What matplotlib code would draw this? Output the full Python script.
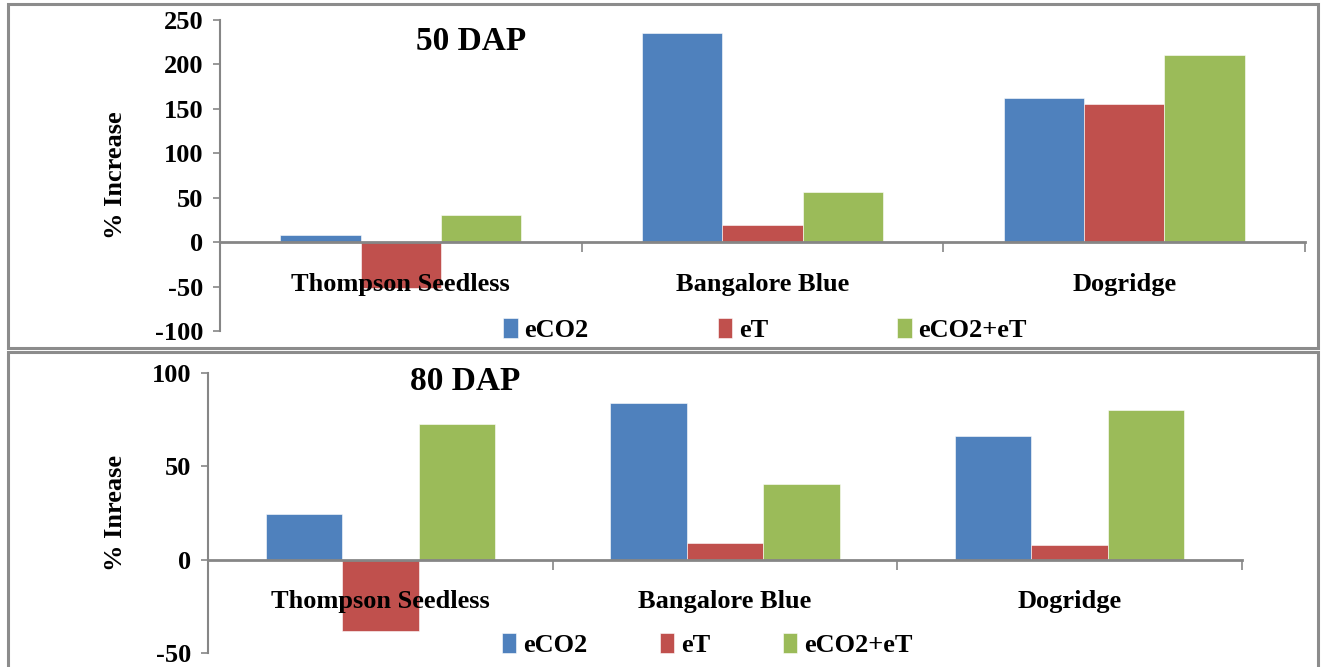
import numpy as np
import matplotlib
matplotlib.use("Agg")
import matplotlib.pyplot as plt
from matplotlib.patches import Rectangle

plt.rcParams['font.family'] = ['Liberation Serif', 'DejaVu Serif']
plt.rcParams['font.weight'] = 'bold'
plt.rcParams['axes.unicode_minus'] = False

cultivars = ["Thompson Seedless", "Bangalore Blue", "Dogridge"]
series = ["eCO2", "eT", "eCO2+eT"]
colors = ["#4f81bd", "#c0504d", "#9bbb59"]

# % increase at 50 DAP
eco2_50 = [8, 235, 162]
et_50 = [-52, 19, 156]
both_50 = [30, 56, 211]

# % increase at 80 DAP
eco2_80 = [24.5, 84, 66]
et_80 = [-38, 8.7, 8]
both_80 = [72.7, 40.7, 80.2]

W, H = 1322, 667
fig = plt.figure(figsize=(W / 100, H / 100), dpi=100)

# panel frames
for (y0, y1) in [(4, 348), (352, 672)]:
    fig.patches.append(Rectangle((8 / W, 1 - y1 / H), 1310 / W, (y1 - y0) / H,
                                 transform=fig.transFigure, fill=False,
                                 edgecolor="#8c8c8c", lw=2.2, zorder=0))

gray = "#868686"
fs = 19


def panel(rect, vals, ylim, yticks, ylabel, title, title_xy, ylab_x, leg_anchor, colsp):
    ax = fig.add_axes(rect)
    x = np.arange(len(cultivars))
    w = 0.222
    for i, (v, c, s) in enumerate(zip(vals, colors, series)):
        ax.bar(x + (i - 1) * w, v, w, color=c, label=s, edgecolor="white", lw=0.4, zorder=2)
    ax.set_axisbelow(False)
    ax.set_xlim(-0.5, 2.5)
    ax.set_ylim(*ylim)
    ax.set_yticks(yticks)
    ax.tick_params(axis='y', direction='out', length=5, width=1.2, color=gray,
                   labelsize=fs, pad=7)
    for t in ax.get_yticklabels():
        t.set_fontweight('bold')
    for s in ['top', 'right']:
        ax.spines[s].set_visible(False)
    ax.spines['left'].set_color(gray)
    ax.spines['left'].set_linewidth(1.5)
    ax.spines['bottom'].set_position(('data', 0))
    ax.spines['bottom'].set_color(gray)
    ax.spines['bottom'].set_linewidth(2)
    ax.set_xticks(x)
    ax.set_xticklabels(cultivars, fontsize=fs, fontweight='bold')
    ax.tick_params(axis='x', length=0, pad=22)
    ax.set_xticks([0.5, 1.5, 2.5], minor=True)
    ax.tick_params(axis='x', which='minor', direction='out', length=7, width=1.2, color=gray)
    fig.text(ylab_x, rect[1] + rect[3] / 2, ylabel, rotation=90, ha='center', va='center',
             fontsize=fs, fontweight='bold')
    fig.text(title_xy[0], title_xy[1], title, ha='center', va='center',
             fontsize=24, fontweight='bold')
    ax.legend(loc='center', bbox_to_anchor=leg_anchor, bbox_transform=fig.transFigure,
              ncol=3, frameon=False, handlelength=0.55, handleheight=0.8,
              handletextpad=0.25, columnspacing=colsp,
              prop={'size': fs, 'weight': 'bold'})
    return ax


panel([220 / W, 1 - 331 / H, 1085 / W, 311 / H],
      [eco2_50, et_50, both_50], (-100, 250), [-100, -50, 0, 50, 100, 150, 200, 250],
      "% Increase", "50 DAP", (471 / W, 1 - 41 / H), 115 / W, (765 / W, 1 - 330 / H), 4.9)

panel([208 / W, 1 - 653 / H, 1034 / W, 280 / H],
      [eco2_80, et_80, both_80], (-50, 100), [-50, 0, 50, 100],
      "% Inrease", "80 DAP", (465 / W, 1 - 381 / H), 115 / W, (707 / W, 1 - 645 / H), 2.75)

fig.savefig("out.png", dpi=100)
